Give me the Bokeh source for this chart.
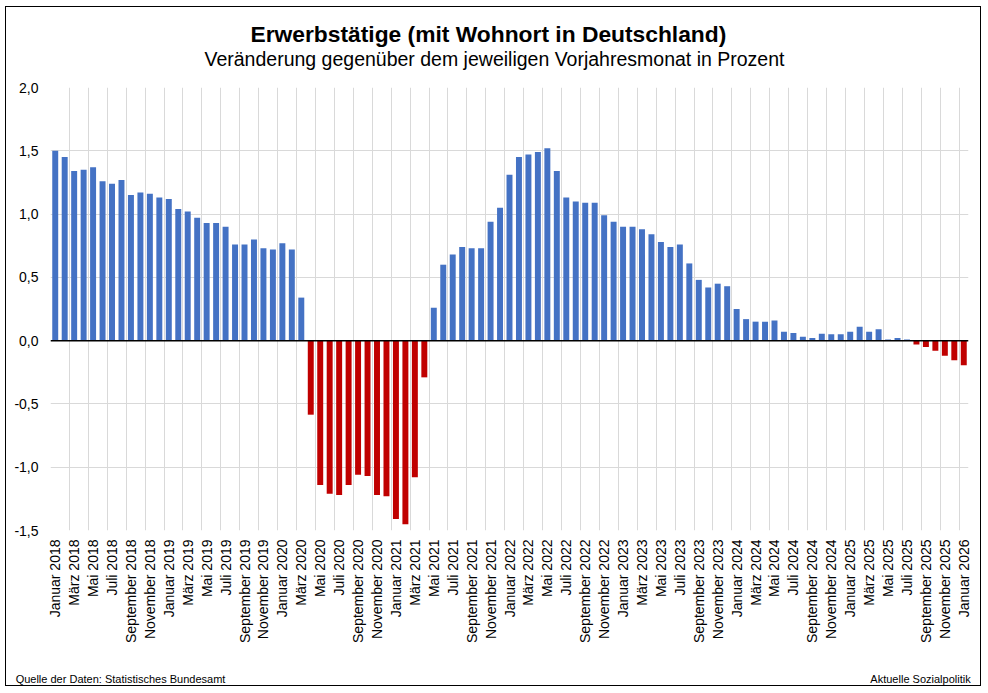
import math
from bokeh.plotting import figure
from bokeh.models import (ColumnDataSource, Range1d, FixedTicker, Span, Title,
                          LinearAxis)
from bokeh.embed import file_html
from bokeh.resources import INLINE

# ---------------- data ----------------
month_names = ["Januar", "Februar", "März", "April", "Mai", "Juni", "Juli",
               "August", "September", "Oktober", "November", "Dezember"]
start_year = 2018
n_months = 97  # Januar 2018 .. Januar 2026

values_2018 = [1.50, 1.45, 1.34, 1.35, 1.37, 1.26, 1.24, 1.27, 1.15, 1.17, 1.16, 1.13]
values_2019 = [1.12, 1.04, 1.02, 0.97, 0.93, 0.93, 0.90, 0.76, 0.76, 0.80, 0.73, 0.72]
values_2020 = [0.77, 0.72, 0.34, -0.585, -1.14, -1.21, -1.22, -1.14, -1.06, -1.07, -1.22, -1.23]
values_2021 = [-1.41, -1.45, -1.08, -0.29, 0.26, 0.60, 0.68, 0.74, 0.73, 0.73, 0.94, 1.05]
values_2022 = [1.31, 1.45, 1.47, 1.49, 1.52, 1.34, 1.13, 1.10, 1.09, 1.09, 0.99, 0.94]
values_2023 = [0.90, 0.90, 0.88, 0.84, 0.78, 0.74, 0.76, 0.61, 0.48, 0.42, 0.45, 0.43]
values_2024 = [0.25, 0.17, 0.15, 0.15, 0.16, 0.07, 0.06, 0.03, 0.02, 0.055, 0.05, 0.05]
values_2025 = [0.07, 0.11, 0.07, 0.09, 0.01, 0.02, 0.01, -0.03, -0.05, -0.08, -0.12, -0.155]
values_2026 = [-0.195]

y_ticks = [-1.5, -1.0, -0.5, 0.0, 0.5, 1.0, 1.5, 2.0]
y_tick_labels = ["-1,5", "-1,0", "-0,5", "0,0", "0,5", "1,0", "1,5", "2,0"]

title_text = "Erwerbstätige (mit Wohnort in Deutschland)"
subtitle_text = "Veränderung gegenüber dem jeweiligen Vorjahresmonat in Prozent"
source_text = "Quelle der Daten: Statistisches Bundesamt"
credit_text = "Aktuelle Sozialpolitik"

# ---------------- build ----------------
values = (values_2018 + values_2019 + values_2020 + values_2021 + values_2022 +
          values_2023 + values_2024 + values_2025 + values_2026)
labels = [f"{month_names[i % 12]} {start_year + i // 12}" for i in range(n_months)]
xs = list(range(1, n_months + 1))
BLUE = "#4472C4"
RED = "#C00000"
colors = [BLUE if v >= 0 else RED for v in values]

src = ColumnDataSource(dict(x=xs, v=values, c=colors))

OX, OY = 6, 7                 # canvas origin on the page (inside a 1px frame border)
W, H = 976, 680
FL, FR, FT, FB = 50, 968, 87, 532   # plot frame edges in page pixels
X0, X1 = 0.5, n_months + 0.5
Y0, Y1 = -1.5, 2.0
FONT = "Liberation Sans"

p = figure(width=W, height=H, output_backend="svg", toolbar_location=None,
           title=None, x_range=Range1d(X0, X1), y_range=Range1d(Y0, Y1),
           min_border_left=FL - OX, min_border_right=W - (FR - OX),
           min_border_top=FT - OY, min_border_bottom=H - (FB - OY),
           background_fill_color="white", border_fill_color="white")
p.outline_line_color = None
p.margin = (OY - 1, 0, 0, OX - 1)
p.styles = {"border": "1px solid black"}

p.vbar(x="x", top="v", bottom=0, width=0.63, fill_color="c", line_color=None,
       source=src)

# grid
p.xgrid.ticker = FixedTicker(ticks=[X0 + 2 * k for k in range(n_months // 2 + 1)] + [X1])
p.xgrid.grid_line_color = "#D9D9D9"
p.xgrid.grid_line_width = 1
p.ygrid.ticker = FixedTicker(ticks=y_ticks)
p.ygrid.grid_line_color = "#D9D9D9"
p.ygrid.grid_line_width = 1

# zero line
p.add_layout(Span(location=0, dimension="width", line_color="black", line_width=1.5))

# axes
p.yaxis.ticker = FixedTicker(ticks=y_ticks)
p.yaxis.major_label_overrides = {t: l for t, l in zip(y_ticks, y_tick_labels)}
p.yaxis.axis_line_color = None
p.yaxis.major_tick_line_color = None
p.yaxis.minor_tick_line_color = None
p.yaxis.major_tick_out = 0
p.yaxis.major_tick_in = 0
p.yaxis.major_label_standoff = 12
p.yaxis.major_label_text_font = FONT
p.yaxis.major_label_text_font_size = "14px"
p.yaxis.major_label_text_color = "black"

tick_x = xs[::2]
p.xaxis.ticker = FixedTicker(ticks=tick_x)
p.xaxis.major_label_overrides = {x: labels[x - 1] for x in tick_x}
p.xaxis.major_label_orientation = math.pi / 2
p.xaxis.axis_line_color = None
p.xaxis.major_tick_line_color = None
p.xaxis.minor_tick_line_color = None
p.xaxis.major_tick_out = 0
p.xaxis.major_tick_in = 0
p.xaxis.major_label_standoff = 9
p.xaxis.major_label_text_font = FONT
p.xaxis.major_label_text_font_size = "14px"
p.xaxis.major_label_text_color = "black"

# footer line: an extra axis in page-pixel units below the month labels
p.extra_x_ranges = {"page": Range1d(FL, FR)}
footer_ticks = [120, 920]
footer_axis = LinearAxis(x_range_name="page", ticker=FixedTicker(ticks=footer_ticks),
                         major_label_overrides={footer_ticks[0]: source_text,
                                                footer_ticks[1]: credit_text})
footer_axis.axis_line_color = None
footer_axis.major_tick_line_color = None
footer_axis.minor_tick_line_color = None
footer_axis.major_tick_out = 0
footer_axis.major_tick_in = 0
footer_axis.major_label_standoff = 26
footer_axis.major_label_text_font = FONT
footer_axis.major_label_text_font_size = "11px"
footer_axis.major_label_text_color = "black"
p.add_layout(footer_axis, "below")

# titles (spacer nearest the frame, then subtitle, then title)
p.add_layout(Title(text=" ", text_font_size="8px", standoff=6.5), "above")
p.add_layout(Title(text=subtitle_text, align="left", offset=154, standoff=0,
                   vertical_align="bottom", text_font=FONT,
                   text_font_size="19.5px", text_font_style="normal",
                   text_color="black"), "above")
p.add_layout(Title(text=title_text, align="left", offset=200, standoff=-2,
                   vertical_align="bottom", text_font=FONT,
                   text_font_size="22.8px", text_font_style="bold",
                   text_color="black"), "above")

open("out.html", "w").write(file_html(p, INLINE))
